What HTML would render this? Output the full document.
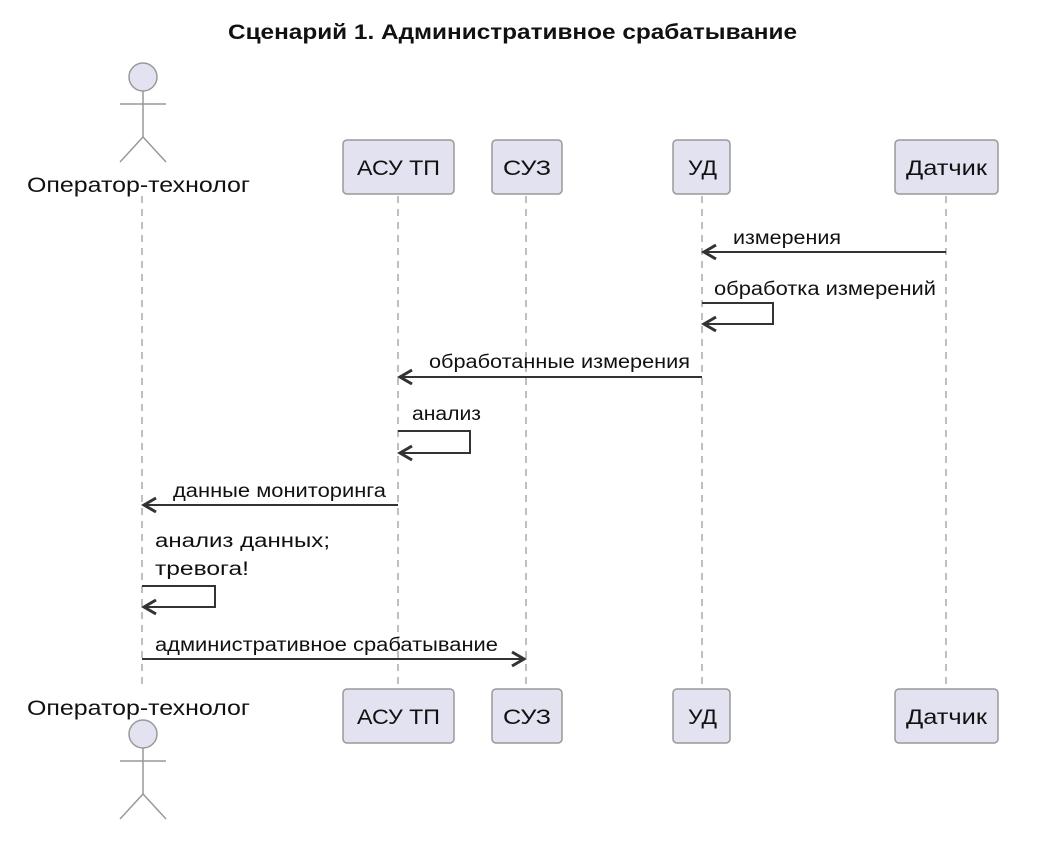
<!DOCTYPE html>
<html><head><meta charset="utf-8"><style>
html,body{margin:0;padding:0;background:#fff;width:1039px;height:861px;overflow:hidden}
svg text{font-family:"Liberation Sans","DejaVu Sans",sans-serif;fill:#111}
</style></head><body>
<svg width="1039" height="861" viewBox="0 0 1039 861" xmlns="http://www.w3.org/2000/svg">
<text x="228" y="39" font-size="21" font-weight="bold" textLength="569" lengthAdjust="spacingAndGlyphs">Сценарий 1. Административное срабатывание</text>
<g stroke="#aaa" stroke-width="1.5" stroke-dasharray="7,6" fill="none">
<line x1="142" y1="196" x2="142" y2="690"/>
<line x1="398" y1="196" x2="398" y2="688"/>
<line x1="526" y1="196" x2="526" y2="688"/>
<line x1="702" y1="196" x2="702" y2="688"/>
<line x1="946" y1="196" x2="946" y2="688"/>
</g>
<g stroke="#999" stroke-width="1.5" fill="none">
<circle cx="143" cy="77" r="14" fill="#e2e2f0"/>
<line x1="120" y1="104" x2="166" y2="104"/><line x1="143" y1="91" x2="143" y2="137"/>
<polyline points="120,162 143,137 166,162"/>
<circle cx="143" cy="734" r="14" fill="#e2e2f0"/>
<line x1="120" y1="761" x2="166" y2="761"/><line x1="143" y1="748" x2="143" y2="794"/>
<polyline points="120,819 143,794 166,819"/>
</g>
<text x="27" y="192" font-size="21" textLength="223" lengthAdjust="spacingAndGlyphs">Оператор-технолог</text>
<text x="27" y="715" font-size="21" textLength="223" lengthAdjust="spacingAndGlyphs">Оператор-технолог</text>
<g fill="#e2e2f0" stroke="#999" stroke-width="1.5">
<rect x="343" y="140" width="111" height="54" rx="4"/><rect x="492" y="140" width="70" height="54" rx="4"/>
<rect x="673" y="140" width="57" height="54" rx="4"/><rect x="895" y="140" width="103" height="54" rx="4"/>
<rect x="343" y="689" width="111" height="54" rx="4"/><rect x="492" y="689" width="70" height="54" rx="4"/>
<rect x="673" y="689" width="57" height="54" rx="4"/><rect x="895" y="689" width="103" height="54" rx="4"/>
</g>
<g font-size="21">
<text x="357" y="175" textLength="83" lengthAdjust="spacingAndGlyphs">АСУ ТП</text>
<text x="503" y="175" textLength="48" lengthAdjust="spacingAndGlyphs">СУЗ</text>
<text x="688" y="175" textLength="29" lengthAdjust="spacingAndGlyphs">УД</text>
<text x="906" y="175" textLength="81" lengthAdjust="spacingAndGlyphs">Датчик</text>
<text x="357" y="724" textLength="83" lengthAdjust="spacingAndGlyphs">АСУ ТП</text>
<text x="503" y="724" textLength="48" lengthAdjust="spacingAndGlyphs">СУЗ</text>
<text x="688" y="724" textLength="29" lengthAdjust="spacingAndGlyphs">УД</text>
<text x="906" y="724" textLength="81" lengthAdjust="spacingAndGlyphs">Датчик</text>
</g>
<g stroke="#333" stroke-width="2" fill="none">
<line x1="946" y1="252" x2="703" y2="252"/><polyline stroke-width="3" points="716,245 704,252 716,259"/>
<polyline points="702,303 773,303 773,324 703,324"/><polyline stroke-width="3" points="716,317 704,324 716,331"/>
<line x1="702" y1="377" x2="399" y2="377"/><polyline stroke-width="3" points="412,370 400,377 412,384"/>
<polyline points="398,431 470,431 470,453 399,453"/><polyline stroke-width="3" points="412,446 400,453 412,460"/>
<line x1="398" y1="505" x2="143" y2="505"/><polyline stroke-width="3" points="156,498 144,505 156,512"/>
<polyline points="142,586 215,586 215,607 143,607"/><polyline stroke-width="3" points="156,600 144,607 156,614"/>
<line x1="142" y1="659" x2="525" y2="659"/><polyline stroke-width="3" points="512,652 524,659 512,666"/>
</g>
<g font-size="19">
<text x="733" y="244" textLength="108" lengthAdjust="spacingAndGlyphs">измерения</text>
<text x="714" y="295" textLength="222" lengthAdjust="spacingAndGlyphs">обработка измерений</text>
<text x="429" y="368" textLength="261" lengthAdjust="spacingAndGlyphs">обработанные измерения</text>
<text x="412" y="420" textLength="69" lengthAdjust="spacingAndGlyphs">анализ</text>
<text x="173" y="497" textLength="213" lengthAdjust="spacingAndGlyphs">данные мониторинга</text>
<text x="155" y="547" textLength="175" lengthAdjust="spacingAndGlyphs">анализ данных;</text>
<text x="155" y="575" textLength="94" lengthAdjust="spacingAndGlyphs">тревога!</text>
<text x="155" y="651" textLength="343" lengthAdjust="spacingAndGlyphs">административное срабатывание</text>
</g>
</svg>
</body></html>
